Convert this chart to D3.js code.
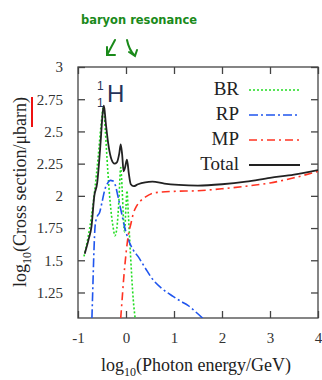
<!DOCTYPE html>
<html><head><meta charset="utf-8">
<script src="https://cdn.jsdelivr.net/npm/d3@7"></script>
<style>body{margin:0;background:#fff}svg{display:block}</style>
</head><body>
<script>
// ---- data (log10 E/GeV, log10 sigma/µbarn) ----
const xTicks = [-1, 0, 1, 2, 3, 4];
const yTicks = [1.25, 1.5, 1.75, 2, 2.25, 2.5, 2.75, 3];
const yTickLabels = ["1.25", "1.5", "1.75", "2", "2.25", "2.5", "2.75", "3"];
const seriesNames = ["BR", "RP", "MP", "Total"];

const brX = [-0.875,-0.80,-0.72,-0.65,-0.58,-0.52,-0.47,-0.43,-0.38,-0.33,-0.27,-0.23,-0.19,-0.15,-0.11,-0.08,-0.05,-0.03,0.0,0.02,0.05,0.10,0.15,0.19];
const brY = [1.53,1.66,1.84,2.05,2.30,2.55,2.69,2.50,2.20,1.95,1.76,1.69,1.75,1.95,2.22,2.05,1.80,1.72,1.92,2.04,1.85,1.50,1.20,1.05];

const rpX = [-0.71,-0.69,-0.67,-0.64,-0.60,-0.55,-0.50,-0.44,-0.38,-0.33,-0.27,-0.22,-0.17,-0.10,-0.03,0.05,0.15,0.25,0.40,0.56,0.75,0.98,1.15,1.29,1.45,1.60];
const rpY = [1.05,1.30,1.55,1.78,1.84,1.87,1.95,2.05,2.10,2.12,2.115,2.08,2.00,1.88,1.76,1.66,1.58,1.53,1.44,1.35,1.28,1.22,1.18,1.15,1.10,1.05];

const mpX = [-0.11,-0.08,-0.05,0.0,0.05,0.10,0.15,0.22,0.30,0.40,0.55,0.75,1.0,1.5,2.0,2.5,3.0,3.5,4.0];
const mpY = [1.05,1.20,1.35,1.55,1.70,1.78,1.86,1.92,1.96,1.99,2.02,2.03,2.035,2.04,2.055,2.075,2.10,2.14,2.19];

const totX = [-0.86,-0.78,-0.72,-0.66,-0.60,-0.54,-0.48,-0.46,-0.42,-0.36,-0.30,-0.24,-0.19,-0.14,-0.11,-0.08,-0.05,-0.02,0.02,0.06,0.10,0.16,0.25,0.40,0.55,0.80,1.10,1.50,2.0,2.5,3.0,3.5,4.0];
const totY = [1.55,1.66,1.76,2.00,2.10,2.36,2.66,2.70,2.56,2.38,2.28,2.25,2.26,2.33,2.40,2.32,2.19,2.22,2.28,2.17,2.09,2.075,2.09,2.105,2.11,2.095,2.085,2.08,2.09,2.11,2.14,2.165,2.20];

// ---- layout ----
const W = 322, H = 380;
const m = {l: 78, t: 67, r: 318, b: 318};
const svg = d3.select("body").append("svg").attr("width", W).attr("height", H);
const x = d3.scaleLinear().domain([-1, 4]).range([m.l, m.r]);
const y = d3.scaleLinear().domain([1.052, 3]).range([m.b, m.t]);
const serif = "'Liberation Serif', 'DejaVu Serif', serif";

// clip
svg.append("clipPath").attr("id", "c").append("rect")
  .attr("x", m.l).attr("y", m.t).attr("width", m.r - m.l).attr("height", m.b - m.t);

// axes with inward ticks (mirrored)
const tl = 7;
const axB = svg.append("g").attr("transform", `translate(0,${m.b})`)
  .call(d3.axisBottom(x).tickValues(xTicks).tickSize(-tl).tickPadding(14).tickFormat(d => d < 0 ? "-" + Math.abs(d) : d));
const axT = svg.append("g").attr("transform", `translate(0,${m.t})`)
  .call(d3.axisTop(x).tickValues(xTicks).tickSize(-tl).tickFormat(""));
const axL = svg.append("g").attr("transform", `translate(${m.l},0)`)
  .call(d3.axisLeft(y).tickValues(yTicks).tickSize(-tl).tickPadding(15).tickFormat((d, i) => yTickLabels[i]));
const axR = svg.append("g").attr("transform", `translate(${m.r},0)`)
  .call(d3.axisRight(y).tickValues(yTicks).tickSize(-tl).tickFormat(""));
[axB, axT, axL, axR].forEach(g => {
  g.select(".domain").remove();
  g.selectAll("line").attr("stroke", "#444").attr("stroke-width", 1.3);
  g.selectAll("text").attr("font-family", serif).attr("font-size", 15).attr("fill", "#333");
});
svg.append("rect").attr("x", m.l).attr("y", m.t).attr("width", m.r - m.l).attr("height", m.b - m.t)
  .attr("fill", "none").attr("stroke", "#444").attr("stroke-width", 1.3);

// lines
const line = d3.line().x(d => x(d[0])).y(d => y(d[1])).curve(d3.curveMonotoneX);
const zip = (a, b) => a.map((v, i) => [v, b[i]]);
const styles = {
  BR: {data: zip(brX, brY), color: "#22dd22", dash: "2,2", w: 1.6},
  RP: {data: zip(rpX, rpY), color: "#1f55ee", dash: "9,3,2,3", w: 1.6},
  MP: {data: zip(mpX, mpY), color: "#ff3322", dash: "8,4,2,4", w: 1.6},
  Total: {data: zip(totX, totY), color: "#222", dash: null, w: 1.8}
};
const gL = svg.append("g").attr("clip-path", "url(#c)");
seriesNames.forEach(n => {
  const s = styles[n];
  gL.append("path").attr("d", line(s.data)).attr("fill", "none")
    .attr("stroke", s.color).attr("stroke-width", s.w)
    .attr("stroke-dasharray", s.dash);
});

// legend
const legY = [95, 120, 145, 170];
seriesNames.forEach((n, i) => {
  const s = styles[n];
  svg.append("text").attr("x", 239).attr("y", legY[i]).attr("text-anchor", "end")
    .attr("font-family", serif).attr("font-size", 19).attr("fill", "#222").text(n);
  svg.append("line").attr("x1", 249).attr("x2", 300).attr("y1", legY[i] - 5).attr("y2", legY[i] - 5)
    .attr("stroke", s.color).attr("stroke-width", s.w).attr("stroke-dasharray", s.dash);
});

// element label 1/1 H
const el = svg.append("g").attr("font-family", "'Liberation Sans', sans-serif").attr("fill", "#26335a");
el.append("text").attr("x", 97).attr("y", 90).attr("font-size", 12).text("1");
el.append("text").attr("x", 97).attr("y", 107).attr("font-size", 12).text("1");
el.append("text").attr("x", 107).attr("y", 102).attr("font-size", 24).text("H");

// axis labels
const xl = svg.append("text").attr("x", 196).attr("y", 371).attr("text-anchor", "middle")
  .attr("font-family", serif).attr("font-size", 18).attr("fill", "#222");
xl.append("tspan").text("log");
xl.append("tspan").attr("font-size", 12).attr("dy", 5).text("10");
xl.append("tspan").attr("dy", -5).text("(Photon energy/GeV)");

const yl = svg.append("text").attr("transform", "translate(26,192) rotate(-90)").attr("text-anchor", "middle")
  .attr("font-family", serif).attr("font-size", 18).attr("fill", "#222");
yl.append("tspan").text("log");
yl.append("tspan").attr("font-size", 12).attr("dy", 5).text("10");
yl.append("tspan").attr("dy", -5).text("(Cross section/\u03bcbarn)");

// handwritten annotation
const green = "#1a8a1a";
svg.append("text").attr("x", 81).attr("y", 24).attr("font-family", "'DejaVu Sans', sans-serif")
  .attr("font-size", 13).attr("font-weight", "bold").attr("fill", green)
  .attr("textLength", 116).attr("lengthAdjust", "spacingAndGlyphs").text("baryon resonance");
svg.append("path").attr("d", "M115,40 L107,55 M107,47 L107,55 L115,55")
  .attr("fill", "none").attr("stroke", green).attr("stroke-width", 2).attr("stroke-linecap", "round");
svg.append("path").attr("d", "M127,40 Q129,50 135,56 M129,52 L135,56 L137,50")
  .attr("fill", "none").attr("stroke", green).attr("stroke-width", 2).attr("stroke-linecap", "round");
svg.append("line").attr("x1", 32).attr("x2", 32).attr("y1", 97).attr("y2", 127)
  .attr("stroke", "#ee1111").attr("stroke-width", 2);
</script>
</body></html>
